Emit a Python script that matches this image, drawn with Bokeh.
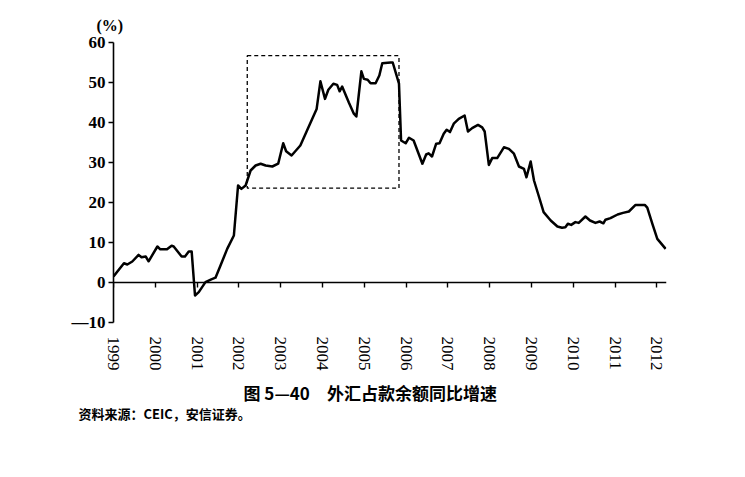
from math import pi
from bokeh.plotting import figure
from bokeh.models import Range1d, LinearAxis, FixedTicker, BoxAnnotation, Title
from bokeh.embed import file_html
from bokeh.resources import INLINE

# decimal year of each reading
years = [1999.00, 1999.25, 1999.33, 1999.45, 1999.60, 1999.67, 1999.77, 1999.84,
         2000.05, 2000.12, 2000.28, 2000.39, 2000.44, 2000.63, 2000.71, 2000.80,
         2000.87, 2000.95, 2001.04, 2001.20, 2001.34, 2001.44, 2001.56, 2001.72,
         2001.88, 2001.98, 2002.06, 2002.16, 2002.28, 2002.40, 2002.52, 2002.64,
         2002.80, 2002.94, 2003.06, 2003.13, 2003.26, 2003.47, 2003.63, 2003.86,
         2003.95, 2004.06, 2004.14, 2004.26, 2004.35, 2004.41, 2004.47, 2004.63,
         2004.75, 2004.81, 2004.93, 2004.99, 2005.08, 2005.15, 2005.27, 2005.36,
         2005.43, 2005.63, 2005.68, 2005.83, 2005.88, 2005.99, 2006.07, 2006.15,
         2006.18, 2006.39, 2006.48, 2006.54, 2006.62, 2006.72, 2006.80, 2006.90,
         2006.97, 2007.05, 2007.14, 2007.26, 2007.40, 2007.48, 2007.58, 2007.72,
         2007.82, 2007.88, 2007.98, 2008.06, 2008.18, 2008.34, 2008.46, 2008.58,
         2008.70, 2008.82, 2008.88, 2008.98, 2009.06, 2009.17, 2009.29, 2009.46,
         2009.62, 2009.73, 2009.81, 2009.87, 2009.95, 2010.05, 2010.13, 2010.29,
         2010.40, 2010.53, 2010.63, 2010.72, 2010.77, 2010.89, 2011.06, 2011.19,
         2011.33, 2011.49, 2011.71, 2011.77, 2011.89, 2012.01, 2012.21]
# year-on-year growth of FX funds outstanding (%)
growth = [1.5, 4.8, 4.5, 5.25, 6.9, 6.3, 6.5, 5.3,
          9.0, 8.3, 8.3, 9.2, 9.0, 6.5, 6.5, 7.75,
          7.75, -3.25, -2.4, 0.1, 0.8, 1.2, 4.25, 8.4,
          11.75, 24.25, 23.4, 24.25, 28.0, 29.25, 29.7, 29.25,
          29.0, 29.7, 34.8, 32.8, 31.75, 34.25, 38.0, 43.4,
          50.3, 45.9, 48.2, 49.7, 49.4, 47.8, 49.0, 45.0,
          42.2, 41.5, 52.8, 50.9, 50.7, 49.8, 49.8, 51.75,
          54.8, 55.0, 55.0, 49.7, 35.5, 34.8, 36.2, 35.7,
          35.5, 29.7, 32.0, 32.3, 31.5, 34.7, 34.8, 37.2,
          38.2, 37.6, 39.7, 40.9, 41.75, 37.75, 38.6, 39.4,
          38.8, 37.75, 29.4, 31.1, 31.1, 33.8, 33.4, 32.2,
          29.0, 28.4, 26.3, 30.25, 25.5, 21.75, 17.6, 15.5,
          14.0, 13.7, 13.8, 14.7, 14.4, 15.1, 14.9, 16.5,
          15.5, 14.9, 15.25, 14.8, 15.7, 16.1, 17.0, 17.4,
          17.75, 19.4, 19.4, 18.7, 14.7, 10.9, 8.4]

year_ticks = list(range(1999, 2013))
y_ticks = [-10, 0, 10, 20, 30, 40, 50, 60]
y_tick_labels = {-10: "\u201410", 0: "0", 10: "10", 20: "20", 30: "30",
                 40: "40", 50: "50", 60: "60"}

# highlighted period (dashed box)
box_left, box_right = 2002.2, 2005.83
box_bottom, box_top = 23.6, 56.7

caption = "图 5—40　外汇占款余额同比增速"
source_note = "资料来源：CEIC，安信证券。"
unit_label = "(%)"

p = figure(width=729, height=461, output_backend="svg", toolbar_location=None,
           x_range=Range1d(1999, 2012.23), y_range=Range1d(-10, 60),
           min_border_left=113, min_border_right=63,
           min_border_top=42, min_border_bottom=139,
           background_fill_color="white", border_fill_color="white")
p.outline_line_color = None
p.xgrid.visible = False
p.ygrid.visible = False

p.line(years, growth, line_color="black", line_width=2.5, line_join="round")

p.add_layout(BoxAnnotation(left=box_left, right=box_right, bottom=box_bottom, top=box_top,
                           fill_alpha=0, line_color="black", line_alpha=1.0,
                           line_width=1.3, line_dash="4 3"))

# y axis
ya = p.yaxis[0]
ya.ticker = FixedTicker(ticks=y_ticks)
ya.major_label_overrides = y_tick_labels
ya.axis_line_width = 1.6
ya.major_tick_line_width = 1.4
ya.major_tick_out = 5
ya.major_tick_in = 0
ya.minor_tick_out = 0
ya.minor_tick_in = 0
ya.major_label_standoff = 3
ya.major_label_text_font = "Liberation Serif"
ya.major_label_text_font_style = "bold"
ya.major_label_text_font_size = "17px"
ya.major_label_text_color = "black"

# x labels axis (below frame, labels only)
xa = p.xaxis[0]
xa.ticker = FixedTicker(ticks=year_ticks)
xa.axis_line_color = None
xa.major_tick_line_color = None
xa.minor_tick_line_color = None
xa.major_tick_out = 0
xa.major_tick_in = 0
xa.minor_tick_out = 0
xa.minor_tick_in = 0
xa.major_label_orientation = -pi / 2
xa.major_label_standoff = 14
xa.major_label_text_font = "Liberation Serif"
xa.major_label_text_font_size = "17px"
xa.major_label_text_color = "black"

# zero line axis with ticks
za = LinearAxis(fixed_location=0, ticker=FixedTicker(ticks=year_ticks))
za.axis_line_width = 1.6
za.major_tick_line_width = 1.4
za.major_tick_out = 5
za.major_tick_in = 0
za.minor_tick_out = 0
za.minor_tick_in = 0
za.major_label_overrides = {t: "" for t in year_ticks}
za.major_label_text_font_size = "1px"
za.major_label_standoff = 0
p.add_layout(za, "below")

p.add_layout(Title(text=unit_label, align="left", offset=-17, standoff=18,
                   text_font="Liberation Serif", text_font_style="bold",
                   text_font_size="16px", text_color="black"), "above")
p.add_layout(Title(text=caption, align="left", offset=130, standoff=8,
                   text_font="Noto Sans CJK SC", text_font_style="bold",
                   text_font_size="17px", text_color="black"), "below")
p.add_layout(Title(text=source_note, align="left", offset=-35, standoff=-13,
                   text_font="Noto Sans CJK SC", text_font_style="bold",
                   text_font_size="13px", text_color="black"), "below")

open("out.html", "w").write(file_html(p, INLINE))
